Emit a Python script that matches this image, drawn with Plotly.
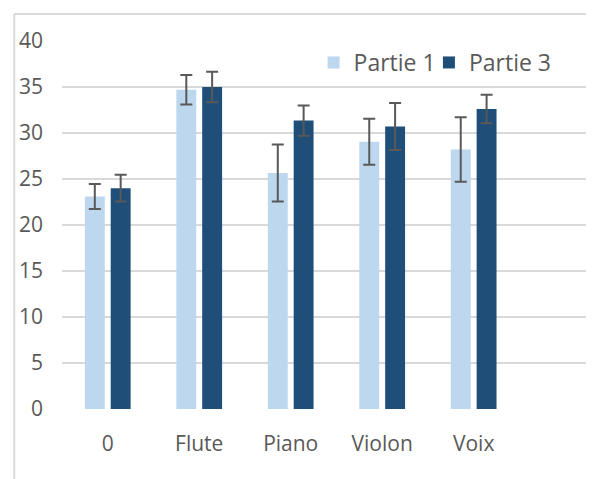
import plotly.graph_objects as go

categories = ["0", "Flute", "Piano", "Violon", "Voix"]
partie1 = [23.1, 34.7, 25.65, 29.05, 28.2]
partie1_err = [1.35, 1.6, 3.1, 2.5, 3.5]
partie3 = [24.0, 35.0, 31.35, 30.7, 32.6]
partie3_err = [1.45, 1.65, 1.65, 2.55, 1.55]
y_ticks = [0, 5, 10, 15, 20, 25, 30, 35, 40]

W, H = 594, 479
OFF = 8  # page body margin offset
L, T = 59 - OFF, 41 - OFF
pw, ph = 532, 368
R = W - L - pw
B = H - T - ph

def px_x(p):
    return (p - OFF - L) / pw

def px_y(p):
    return (T + ph - (p - OFF)) / ph

err_style = dict(type="data", thickness=2, width=6, color="#595959")

fig = go.Figure()
fig.add_trace(go.Bar(name="Partie 1", x=categories, y=partie1, legend="legend",
                     marker=dict(color="#BDD7EE", line=dict(width=0)),
                     error_y=dict(array=partie1_err, **err_style)))
fig.add_trace(go.Bar(name="Partie 3", x=categories, y=partie3, legend="legend2",
                     marker=dict(color="#1F4E79", line=dict(width=0)),
                     error_y=dict(array=partie3_err, **err_style)))

font_family = "Open Sans, Noto Sans, Liberation Sans, sans-serif"
legend_common = dict(orientation="h", yanchor="top", xanchor="left",
                     font=dict(size=23, color="#595959"), bgcolor="rgba(0,0,0,0)",
                     itemwidth=30)

fig.update_layout(
    width=W, height=H,
    margin=dict(l=L, r=R, t=T, b=B, pad=0),
    paper_bgcolor="white", plot_bgcolor="white",
    barmode="group", bargap=0.435, bargroupgap=0.23,
    font=dict(family=font_family, size=21, color="#595959"),
    showlegend=True,
    legend=dict(x=px_x(312), y=px_y(41), **legend_common),
    legend2=dict(x=px_x(428), y=px_y(41), **legend_common),
    xaxis=dict(type="category", range=[-0.5, -0.5 + pw / 92.0], showgrid=False,
               showline=False, zeroline=False, ticks="", ticklabelstandoff=20,
               tickfont=dict(size=21, color="#595959")),
    yaxis=dict(range=[0, 40], tickvals=y_ticks, showgrid=True, gridcolor="#D9D9D9",
               gridwidth=2, zeroline=False, showline=False, ticks="",
               ticklabelstandoff=18, tickfont=dict(size=21, color="#595959")),
    shapes=[
        dict(type="line", xref="paper", yref="paper", x0=px_x(11), x1=px_x(11),
             y0=px_y(14), y1=px_y(H + 20), line=dict(color="#D9D9D9", width=2)),
        dict(type="line", xref="paper", yref="paper", x0=px_x(11), x1=px_x(W + 20),
             y0=px_y(14), y1=px_y(14), line=dict(color="#D9D9D9", width=2)),
    ],
)

fig.write_html("out.html")
